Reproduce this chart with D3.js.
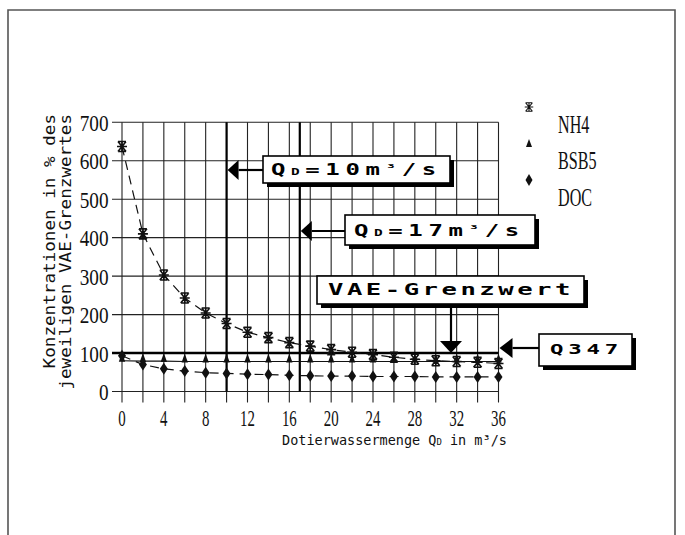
<!DOCTYPE html>
<html><head><meta charset="utf-8">
<script src="https://cdn.jsdelivr.net/npm/d3@7"></script>
<style>body{margin:0;background:#fff}svg{display:block}</style>
</head><body>
<svg id="c" width="685" height="535"></svg>
<script>
// ---- data ----
const qValues = [0,2,4,6,8,10,12,14,16,18,20,22,24,26,28,30,32,34,36];
const nh4  = [637,410,303,243,204,177,154,140,127,118,109,102,96,89,84,80,78,76,73];
const bsb5 = [80,79,79,78,78,78,78,78,78,78,78,78,78,78,78,78,78,78,78];
const doc  = [93,70,59,53,49,47,45,44,42,41,40,40,39,39,39,38,38,38,38];
const seriesNames = ["NH4","BSB5","DOC"];
const xTickLabels = [0,4,8,12,16,20,24,28,32,36];
const yTickLabels = [0,100,200,300,400,500,600,700];
const gridQ = [0,2,4,6,8,10,12,14,16,18,20,22,24,26,28,30,32,34,36];
const refQ = [10,17];
const limitValue = 100;
const yTitle = ["Konzentrationen in % des","jeweiligen VAE-Grenzwertes"];

// ---- drawing ----
const svg = d3.select("#c");
const x = d3.scaleLinear().domain([0,36]).range([122,498.5]);
const y = d3.scaleLinear().domain([0,700]).range([391.5,122.3]);

// outer frame
svg.append("path").attr("d","M8,545 L8,10 L675,10 L675,545")
  .attr("fill","none").attr("stroke","#555").attr("stroke-width",1.6);

const g = svg.append("g");
g.selectAll("line.h").data(yTickLabels).join("line")
  .attr("x1",112).attr("x2",x(36)).attr("y1",d=>y(d)).attr("y2",d=>y(d))
  .attr("stroke","#222").attr("stroke-width",1.1);
g.selectAll("line.v").data(gridQ).join("line")
  .attr("x1",d=>x(d)).attr("x2",d=>x(d)).attr("y1",y(700)).attr("y2",y(0)+11)
  .attr("stroke","#222").attr("stroke-width",1.1);
g.selectAll("line.r").data(refQ).join("line")
  .attr("x1",d=>x(d)).attr("x2",d=>x(d)).attr("y1",y(700)).attr("y2",y(0))
  .attr("stroke","#000").attr("stroke-width",2.2);
g.append("line").attr("x1",112).attr("x2",x(36)).attr("y1",y(limitValue)).attr("y2",y(limitValue))
  .attr("stroke","#000").attr("stroke-width",2.6);

// y tick labels
svg.selectAll("text.yt").data(yTickLabels).join("text")
  .attr("transform",d=>`translate(108.5,${y(d)+8.5}) scale(0.8,1)`)
  .attr("text-anchor","end").attr("font-family","Liberation Serif").attr("font-size",24)
  .attr("fill","#111").text(d=>d);
// x tick labels
svg.selectAll("text.xt").data(xTickLabels).join("text")
  .attr("transform",d=>`translate(${x(d)},426) scale(0.62,1)`)
  .attr("text-anchor","middle").attr("font-family","Liberation Serif").attr("font-size",24)
  .attr("fill","#111").text(d=>d);

// axis titles
const xt = svg.append("text").attr("x",282).attr("y",445)
  .attr("font-family","DejaVu Sans Mono").attr("font-size",13.5).attr("fill","#111");
xt.append("tspan").text("Dotierwassermenge Q");
xt.append("tspan").attr("font-size",9).text("D");
xt.append("tspan").text(" in m³/s");

svg.selectAll("text.ytl").data(yTitle).join("text")
  .attr("transform",(d,i)=>`translate(${i===0?55:71},114) rotate(-90)`)
  .attr("text-anchor","end").attr("font-family","DejaVu Sans Mono").attr("font-size",15)
  .attr("textLength",d=>d.length*10.6).attr("lengthAdjust","spacingAndGlyphs")
  .attr("fill","#111").text(d=>d);

// series lines
const line = d3.line().x((d,i)=>x(qValues[i])).y(d=>y(d));
svg.append("path").datum(nh4).attr("d",line).attr("fill","none")
  .attr("stroke","#111").attr("stroke-width",1.2).attr("stroke-dasharray","9,6");
svg.append("path").datum(bsb5).attr("d",line).attr("fill","none")
  .attr("stroke","#111").attr("stroke-width",1.2);
svg.append("path").datum(doc).attr("d",line).attr("fill","none")
  .attr("stroke","#111").attr("stroke-width",1.2).attr("stroke-dasharray","9,6");

// markers
const starPath = "M-4,-5L4,-5M-4,5L4,5M-4,-5L4,5M4,-5L-4,5M0,-5L0,5M-5,0L5,0";
const triPath = "M0,-8L3.2,1L-3.2,1Z";
const diaPath = "M0,-6L4,0L0,6L-4,0Z";
svg.selectAll("path.nh4").data(nh4).join("path")
  .attr("transform",(d,i)=>`translate(${x(qValues[i])},${y(d)})`)
  .attr("d",starPath).attr("fill","none").attr("stroke","#111").attr("stroke-width",1.6);
svg.selectAll("path.bsb").data(bsb5).join("path")
  .attr("transform",(d,i)=>`translate(${x(qValues[i])},${y(d)})`)
  .attr("d",triPath).attr("fill","#111");
svg.selectAll("path.doc").data(doc).join("path")
  .attr("transform",(d,i)=>`translate(${x(qValues[i])},${y(d)})`)
  .attr("d",diaPath).attr("fill","#111");

// legend
const legY = [107,143,180];
const legPaths = [starPath, "M0,-4L3,4L-3,4Z", "M0,-6L3.5,0L0,6L-3.5,0Z"];
seriesNames.forEach((n,i)=>{
  const p = svg.append("path").attr("transform",`translate(529,${legY[i]})`).attr("d",legPaths[i]);
  if(i===0) p.attr("fill","none").attr("stroke","#111").attr("stroke-width",1.3).attr("transform",`translate(529,${legY[i]}) scale(0.85)`);
  else p.attr("fill","#111");
  svg.append("text").attr("transform",`translate(558,${legY[i]+26}) scale(0.62,1)`)
    .attr("font-family","Liberation Serif").attr("font-size",26).attr("fill","#111").text(n);
});

// annotation boxes
function box(x0,y0,w,h){
  svg.append("rect").attr("x",x0+4).attr("y",y0+4).attr("width",w).attr("height",h).attr("fill","#000");
  svg.append("rect").attr("x",x0).attr("y",y0).attr("width",w).attr("height",h)
    .attr("fill","#fff").attr("stroke","#000").attr("stroke-width",1.6);
}
function label(tx,ty,fs,sx,ls){
  return svg.append("text").attr("transform",`translate(${tx},${ty}) scale(${sx},1)`)
    .attr("font-family","DejaVu Sans Mono").attr("font-weight","bold").attr("font-size",fs)
    .attr("letter-spacing",ls).attr("fill","#000");
}
function arrowLeft(tipX,tipY,baseX,toX){
  svg.append("line").attr("x1",baseX).attr("x2",toX).attr("y1",tipY).attr("y2",tipY)
    .attr("stroke","#000").attr("stroke-width",2.2);
  svg.append("path").attr("d",`M${tipX},${tipY}L${baseX},${tipY-10}L${baseX},${tipY+10}Z`).attr("fill","#000");
}
function qdLabel(tx,ty,num){
  const t = label(tx,ty,15,1.6,3.5);
  t.append("tspan").text("Q");
  t.append("tspan").attr("font-size",9).text("D");
  t.append("tspan").text("="+num+"m");
  t.append("tspan").attr("font-size",11).attr("dy",-3).text("³");
  t.append("tspan").attr("dy",3).text("/s");
}
arrowLeft(x(10)+1, 170, x(10)+12, 263);
box(263,156,187,27);
qdLabel(271,175,10);
arrowLeft(x(17)+1, 231, x(17)+12, 345);
box(345,215,190,30);
qdLabel(354,236,17);
box(317,276,267,28);
svg.append("line").attr("x1",451).attr("x2",451).attr("y1",304).attr("y2",342)
  .attr("stroke","#000").attr("stroke-width",2.2);
svg.append("path").attr("d",`M451,${y(limitValue)}L440,341L462,341Z`).attr("fill","#000");
label(328,295,16,1.6,2.2).text("VAE-Grenzwert");
arrowLeft(x(36)+1, 348, x(36)+14, 539);
box(539,334,93,32);
label(550,354,14,1.6,3).text("Q347");
</script>
</body></html>
